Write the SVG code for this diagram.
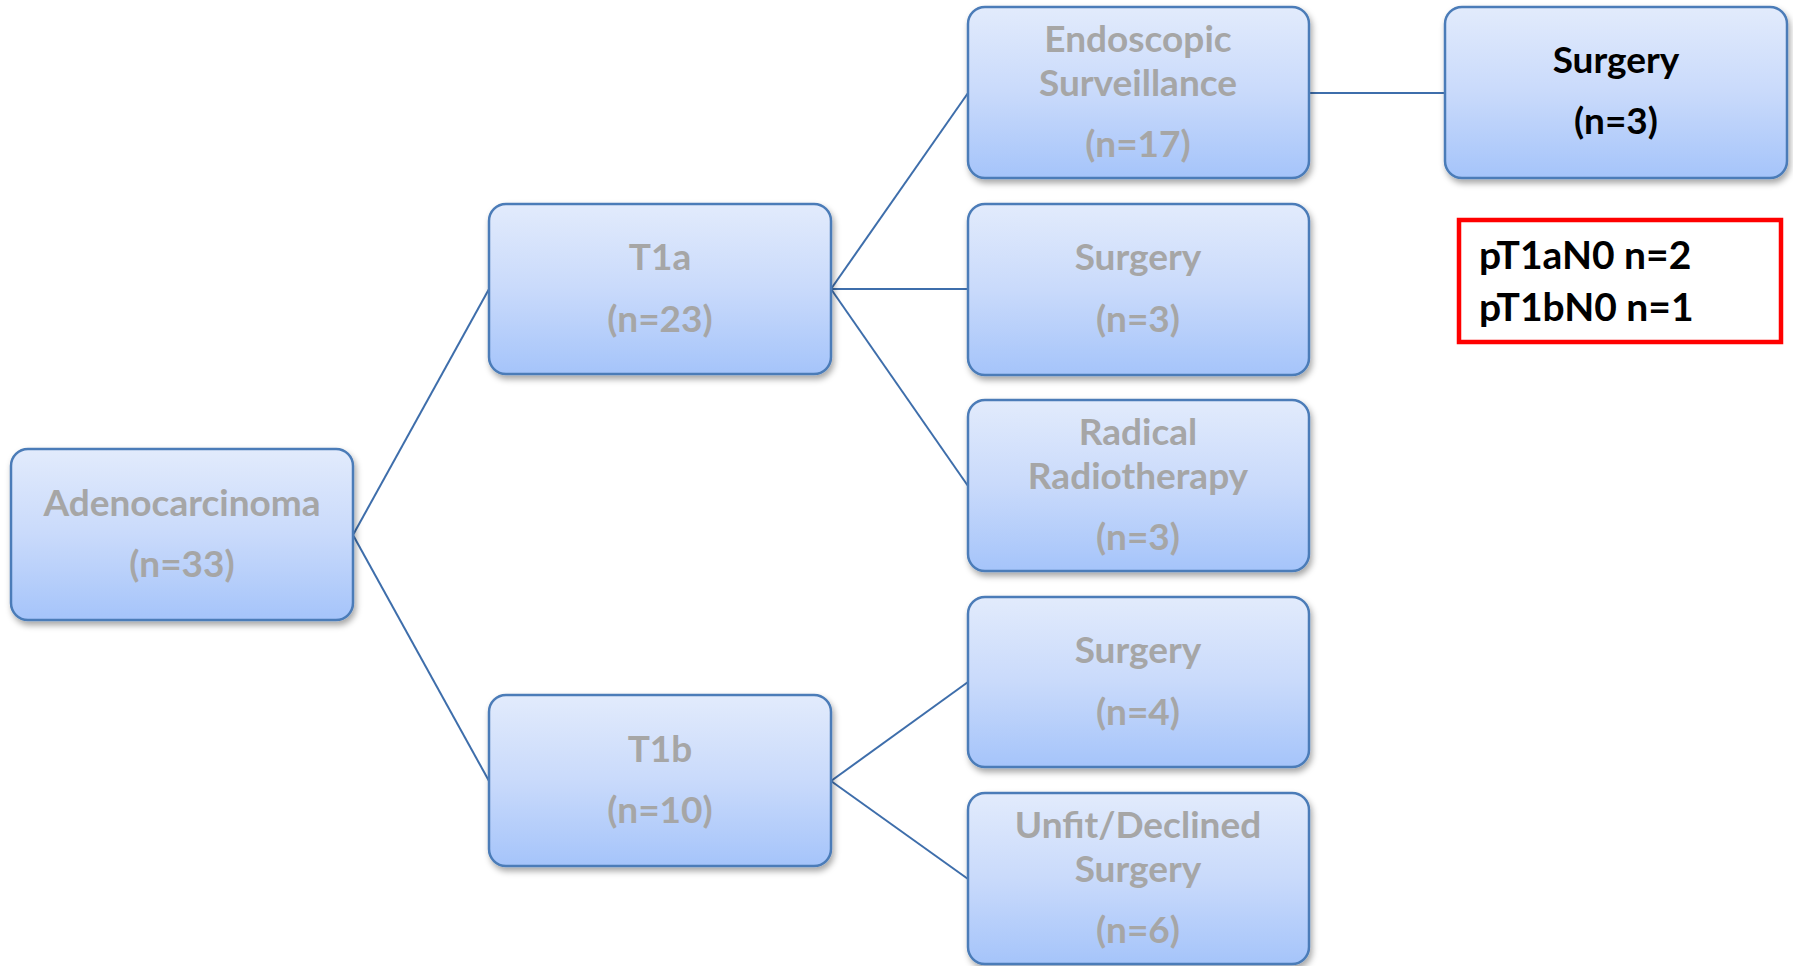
<svg xmlns="http://www.w3.org/2000/svg" width="1793" height="966" viewBox="0 0 1793 966">
<defs>
<linearGradient id="g" x1="0" y1="0" x2="0" y2="1">
<stop offset="0" stop-color="#E2EBFC"/>
<stop offset="0.5" stop-color="#C9DAFB"/>
<stop offset="1" stop-color="#A5C4FA"/>
</linearGradient>
<filter id="sh" x="-10%" y="-10%" width="125%" height="130%">
<feDropShadow dx="2" dy="4" stdDeviation="3" flood-color="#000" flood-opacity="0.35"/>
</filter>
</defs>
<style>
.box{fill:url(#g);stroke:#4B7CB8;stroke-width:2.5;filter:url(#sh)}
.t{font-family:Lato,"Liberation Sans",sans-serif;font-weight:bold;font-size:37px;fill:#A6A6A6;text-anchor:middle}
.k{fill:#000}
.c{stroke:#3E6EAB;stroke-width:2;fill:none}
.r{font-family:Lato,"Liberation Sans",sans-serif;font-weight:bold;font-size:39px;fill:#000}
</style>
<g id="connectors">
<line class="c" x1="353" y1="535" x2="489" y2="289"/>
<line class="c" x1="353" y1="535" x2="489" y2="781"/>
<line class="c" x1="831" y1="289" x2="968" y2="93"/>
<line class="c" x1="831" y1="289" x2="968" y2="289"/>
<line class="c" x1="831" y1="289" x2="968" y2="486"/>
<line class="c" x1="831" y1="781" x2="968" y2="682"/>
<line class="c" x1="831" y1="781" x2="968" y2="879"/>
<line class="c" x1="1309" y1="93" x2="1445" y2="93"/>
</g>
<g id="adeno">
<rect class="box" x="11" y="449" width="342" height="171" rx="17"/>
<text class="t" x="182" y="516">Adenocarcinoma</text>
<text class="t" x="182" y="577">(n=33)</text>
</g>
<g id="t1a">
<rect class="box" x="489" y="204" width="342" height="170" rx="17"/>
<text class="t" x="660" y="270">T1a</text>
<text class="t" x="660" y="332">(n=23)</text>
</g>
<g id="t1b">
<rect class="box" x="489" y="695" width="342" height="171" rx="17"/>
<text class="t" x="660" y="762">T1b</text>
<text class="t" x="660" y="823">(n=10)</text>
</g>
<g id="endo">
<rect class="box" x="968" y="7" width="341" height="171" rx="17"/>
<text class="t" x="1138" y="52">Endoscopic</text>
<text class="t" x="1138" y="96">Surveillance</text>
<text class="t" x="1138" y="157">(n=17)</text>
</g>
<g id="surg1">
<rect class="box" x="968" y="204" width="341" height="171" rx="17"/>
<text class="t" x="1138" y="270">Surgery</text>
<text class="t" x="1138" y="332">(n=3)</text>
</g>
<g id="radical">
<rect class="box" x="968" y="400" width="341" height="171" rx="17"/>
<text class="t" x="1138" y="445">Radical</text>
<text class="t" x="1138" y="489">Radiotherapy</text>
<text class="t" x="1138" y="550">(n=3)</text>
</g>
<g id="surg2">
<rect class="box" x="968" y="597" width="341" height="170" rx="17"/>
<text class="t" x="1138" y="663">Surgery</text>
<text class="t" x="1138" y="725">(n=4)</text>
</g>
<g id="unfit">
<rect class="box" x="968" y="793" width="341" height="171" rx="17"/>
<text class="t" x="1138" y="838">Unfit/Declined</text>
<text class="t" x="1138" y="882">Surgery</text>
<text class="t" x="1138" y="943">(n=6)</text>
</g>
<g id="surg3">
<rect class="box" x="1445" y="7" width="342" height="171" rx="17"/>
<text class="t k" x="1616" y="73">Surgery</text>
<text class="t k" x="1616" y="134">(n=3)</text>
</g>
<g id="note">
<rect x="1459" y="220" width="322" height="122" fill="#fff" stroke="#FF0000" stroke-width="4.5"/>
<text class="r" x="1479" y="269">pT1aN0 n=2</text>
<text class="r" x="1479" y="321">pT1bN0 n=1</text>
</g>
</svg>
